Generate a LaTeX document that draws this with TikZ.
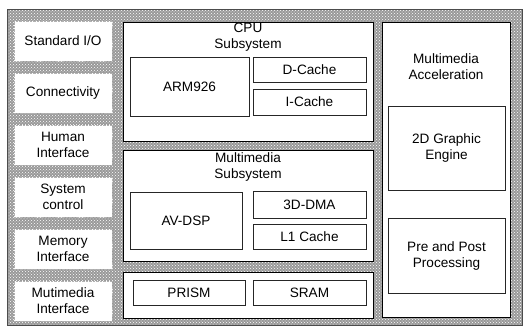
\documentclass[tikz,border=0pt]{standalone}
\usepackage{fontspec}
\setmainfont{Liberation Sans}
\usetikzlibrary{patterns}
\begin{document}
\begin{tikzpicture}[x=1pt,y=-1pt,
  txt/.style={font=\fontsize{13.6}{16}\selectfont, align=center, inner sep=0pt},
  blk/.style={draw=black, line width=0.9pt, fill=white},
  sub/.style={draw=black!85, line width=0.7pt, fill=white},
  side/.style={fill=white, draw=black!30, densely dotted, line width=0.4pt}]
\useasboundingbox (0,0) rectangle (525,327);
% textured background
\fill[black!40] (7,9) rectangle (522,325);
\fill[pattern=crosshatch dots, pattern color=white] (7,9) rectangle (522,325);
\draw[black!70, line width=0.6pt] (7,9) rectangle (522,325);
% left column
\foreach \c/\t [count=\i] in {41/{Standard I/O}, 93/{Connectivity}, 145/{Human\\Interface}, 197/{System\\control}, 249/{Memory\\Interface}, 301/{Mutimedia\\Interface}}{
  \node[side, minimum width=98pt, minimum height=40pt, inner sep=0pt] (L\i) at (63,\c) {};
  \node[txt] at (L\i) {\t};
}
% CPU subsystem
\draw[blk] (123,22) rectangle (373,141);
\node[txt] (cpu) at (248,37) {CPU\\Subsystem};
\node[sub, minimum width=119pt, minimum height=59pt] (arm) at (189.5,86.5) {};
\node[txt] at (arm) {ARM926};
\node[sub, minimum width=113pt, minimum height=25pt] (dc) at (309.5,69.5) {};
\node[txt] at (dc) {D-Cache};
\node[sub, minimum width=113pt, minimum height=26pt] (ic) at (309.5,102) {};
\node[txt] at (ic) {I-Cache};
% Multimedia subsystem
\draw[blk] (123,150) rectangle (373,261);
\node[txt] (mms) at (248,167) {Multimedia\\Subsystem};
\node[sub, minimum width=112pt, minimum height=57pt] (av) at (186,220.5) {};
\node[txt] at (av) {AV-DSP};
\node[sub, minimum width=113pt, minimum height=27pt] (dma) at (309.5,204.5) {};
\node[txt] at (dma) {3D-DMA};
\node[sub, minimum width=113pt, minimum height=25pt] (l1) at (309.5,236.5) {};
\node[txt] at (l1) {L1 Cache};
% memory row
\draw[blk] (123,272) rectangle (373,318);
\node[sub, minimum width=112pt, minimum height=25pt] (prism) at (189,292.5) {};
\node[txt] at (prism) {PRISM};
\node[sub, minimum width=113pt, minimum height=25pt] (sram) at (309.5,292.5) {};
\node[txt] at (sram) {SRAM};
% Multimedia acceleration
\draw[blk] (382,22) rectangle (510,317);
\node[txt] (mma) at (446,67) {Multimedia\\Acceleration};
\node[sub, minimum width=117pt, minimum height=84pt] (g2d) at (446.5,148) {};
\node[txt] at (g2d) {2D Graphic\\Engine};
\node[sub, minimum width=117pt, minimum height=75pt] (pp) at (446.5,255.5) {};
\node[txt] at (pp) {Pre and Post\\Processing};
\end{tikzpicture}
\end{document}
